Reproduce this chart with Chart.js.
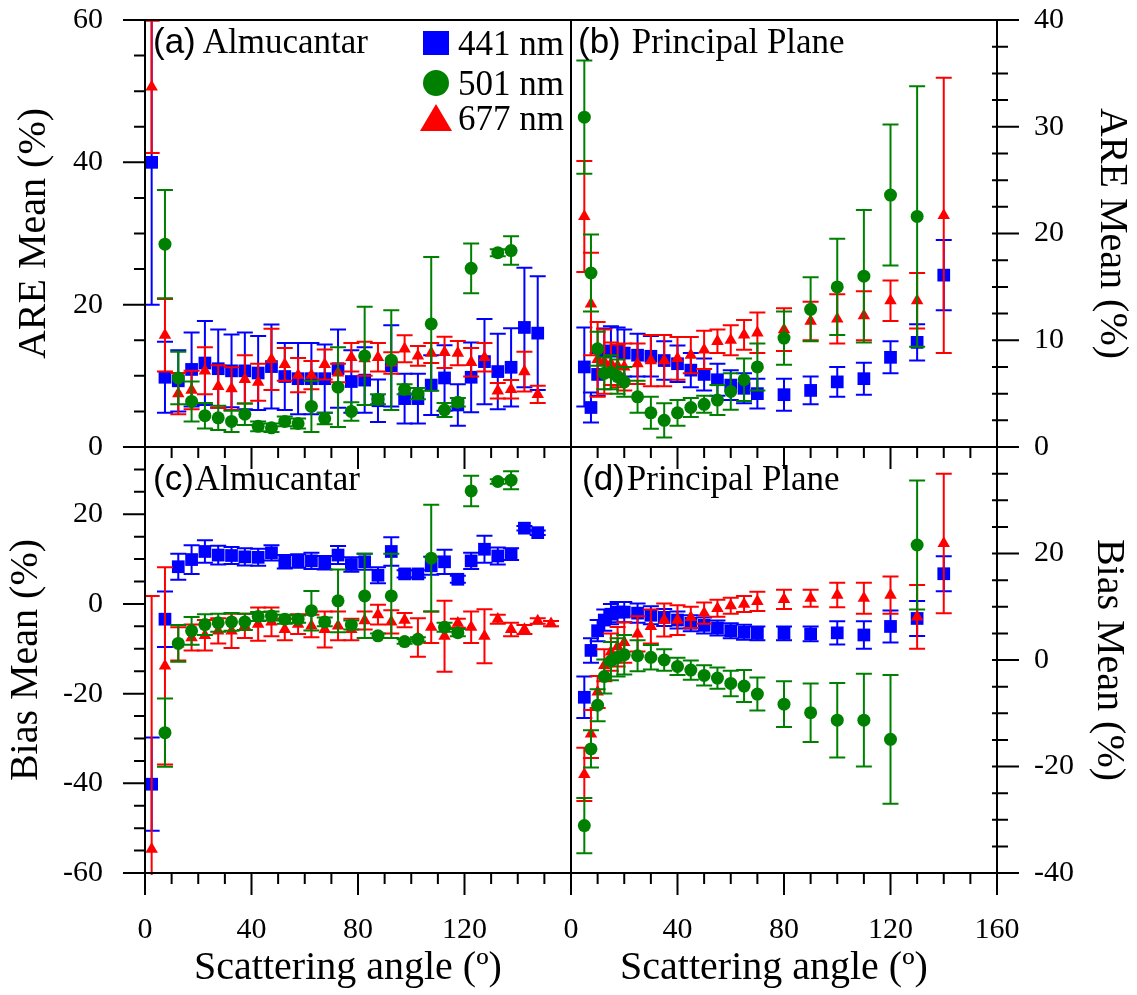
<!DOCTYPE html>
<html>
<head>
<meta charset="utf-8">
<script src="https://cdn.jsdelivr.net/npm/chart.js@4.4.0/dist/chart.umd.min.js"></script>
<style>
  html, body { margin: 0; padding: 0; background: #fff; }
  #wrap { position: relative; width: 1137px; height: 995px; }
  #wrap canvas { position: absolute; left: 0; top: 0; width: 1137px; height: 995px; }
</style>
</head>
<body>
<div id="wrap">
  <canvas id="pa" width="1137" height="995"></canvas>
  <canvas id="pb" width="1137" height="995"></canvas>
  <canvas id="pc" width="1137" height="995"></canvas>
  <canvas id="pd" width="1137" height="995"></canvas>
</div>
<script>
// scattering angles (deg)
const anglesAlm = [2.5, 7.5, 12.5, 17.5, 22.5, 27.5, 32.5, 37.5, 42.5, 47.5, 52.5, 57.5, 62.5, 67.5, 72.5,
  77.5, 82.5, 87.5, 92.5, 97.5, 102.5, 107.5, 112.5, 117.5, 122.5, 127.5, 132.5, 137.5, 142.5, 147.5, 152.5];
const anglesPP = [5, 7.5, 10, 12.5, 15, 17.5, 20, 25, 30, 35, 40, 45, 50, 55, 60, 65, 70, 80, 90, 100, 110, 120, 130, 140];

// (a) almucantar ARE
const almAre441 = [40.0, 9.8, 9.3, 10.9, 11.8, 11.0, 10.7, 10.7, 10.4, 11.3, 9.9, 9.6, 9.6, 9.6, 11.0, 9.2, 9.4, 6.5, 11.4, 6.8, 6.8, 8.7, 9.7, 5.9, 9.8, 12.0, 10.6, 11.2, 16.8, 16.0, null];
const almAre441Err = [20.0, 5.0, 4.3, 5.2, 5.9, 5.5, 5.1, 5.4, 5.2, 5.9, 4.7, 5.0, 5.0, 4.8, 5.5, 4.4, 4.6, 3.0, 5.7, 3.5, 3.5, 4.2, 4.6, 2.9, 4.9, 6.0, 5.3, 5.5, 8.4, 8.0, null];
const almAre501 = [null, 28.5, 9.7, 6.4, 4.4, 4.1, 3.6, 4.6, 2.9, 2.7, 3.6, 3.3, 5.7, 4.0, 8.4, 5.0, 12.8, 6.7, 12.2, 8.1, 7.5, 17.3, 5.2, 6.3, 25.1, null, 27.3, 27.6, null, null, null];
const almAre501Err = [null, 7.6, 3.7, 2.8, 1.8, 1.7, 1.5, 1.5, 0.7, 0.6, 0.7, 0.7, 3.6, 0.8, 5.6, 1.3, 6.9, 0.7, 7.0, 0.7, 0.8, 9.4, 1.0, 0.6, 3.5, null, 0.5, 2.0, null, null, null];
const almAre677 = [50.6, 15.7, 7.5, 8.0, 10.7, 8.5, 8.2, 9.5, 9.1, 12.3, 11.6, 10.1, 10.1, 11.6, 10.4, 12.6, 12.4, 12.6, 11.8, 13.8, 12.8, 13.2, 13.3, 13.2, 11.9, 12.6, 7.9, 8.1, 10.6, 7.4, null];
const almAre677Err = [9.3, 5.1, 2.9, 2.7, 3.3, 3.0, 3.0, 3.4, 2.6, 4.3, 2.3, 2.4, 2.0, 2.1, 1.3, 2.0, 2.4, 2.0, 1.5, 1.9, 1.4, 1.4, 2.2, 1.7, 2.0, 2.0, 1.1, 1.3, 2.8, 1.2, null];

// (b) principal plane ARE
const ppAre441 = [7.5, 3.7, 6.8, 8.9, 9.0, 9.0, 8.8, 8.6, 8.5, 8.1, 7.8, 7.2, 6.8, 6.3, 5.8, 5.5, 5.0, 4.9, 5.3, 6.1, 6.4, 8.4, 9.8, 16.1];
const ppAre441Err = [3.7, 1.4, 2.0, 2.2, 2.3, 2.2, 2.2, 2.0, 1.9, 1.8, 1.7, 1.6, 1.5, 1.5, 1.4, 1.4, 1.4, 1.5, 1.3, 1.4, 1.5, 1.5, 1.7, 3.3];
const ppAre501 = [30.9, 16.3, 9.2, 6.9, 7.0, 6.6, 6.1, 4.7, 3.2, 2.5, 3.2, 3.7, 4.0, 4.4, 5.2, 6.3, 7.5, 10.2, 12.9, 15.0, 16.0, 23.6, 21.6, null];
const ppAre501Err = [5.3, 3.6, 1.6, 1.5, 1.6, 1.6, 1.4, 1.5, 1.5, 1.6, 1.2, 0.9, 0.8, 1.4, 1.7, 2.0, 2.2, 2.5, 3.0, 4.5, 6.2, 6.6, 12.2, null];
const ppAre677 = [21.6, 13.4, 8.2, 8.0, 7.8, 7.6, 7.5, 7.8, 8.1, 8.1, 8.3, 8.6, 9.1, 9.9, 10.0, 10.5, 10.7, 11.0, 11.8, 12.0, 12.3, 13.7, 13.7, 21.7];
const ppAre677Err = [5.2, 4.8, 3.5, 3.0, 2.0, 2.0, 2.2, 1.9, 2.4, 2.4, 2.0, 1.7, 1.8, 1.1, 1.4, 1.4, 1.9, 2.0, 1.8, 2.3, 2.3, 1.9, 2.6, 12.9];

// (c) almucantar bias
const almBias441 = [-40.2, -3.4, 8.3, 9.9, 11.7, 10.9, 10.8, 10.5, 10.4, 11.4, 9.4, 9.6, 9.6, 9.2, 10.9, 8.8, 9.4, 6.4, 11.7, 6.7, 6.7, 8.5, 9.4, 5.5, 9.6, 12.2, 10.7, 11.1, 16.9, 15.9, null];
const almBias441Err = [10.4, 6.2, 2.9, 3.2, 2.5, 2.1, 1.9, 1.9, 1.9, 1.7, 1.5, 1.5, 1.8, 1.5, 2.0, 1.6, 1.8, 1.8, 3.2, 0.8, 0.8, 2.0, 2.7, 0.8, 1.8, 3.0, 1.9, 1.3, 0.5, 0.5, null];
const almBias501 = [null, -28.7, -8.8, -6.0, -4.6, -4.2, -4.0, -4.0, -2.8, -2.7, -3.4, -3.4, -1.5, -4.0, 0.7, -4.7, 1.8, -7.1, 1.8, -8.4, -7.9, 10.2, -5.2, -6.4, 25.2, null, 27.3, 27.6, null, null, null];
const almBias501Err = [null, 7.6, 4.1, 3.1, 2.3, 2.0, 2.0, 1.8, 1.0, 1.0, 1.0, 0.8, 4.4, 1.0, 7.0, 1.0, 9.4, 0.5, 9.4, 0.5, 0.5, 11.9, 1.0, 0.8, 3.4, null, 0.5, 2.0, null, null, null];
const almBias677 = [-54.7, -13.8, -8.9, -7.5, -7.0, -6.0, -6.0, -4.9, -4.5, -4.0, -5.7, -4.5, -4.9, -5.7, -4.9, -5.7, -3.7, -2.4, -4.0, -3.6, -7.5, -5.2, -7.2, -4.3, -5.2, -7.2, -3.4, -5.7, -5.7, -3.8, -4.4];
const almBias677Err = [56.5, 22.0, 3.7, 2.9, 3.4, 2.8, 3.8, 2.7, 3.7, 3.2, 2.4, 2.2, 2.5, 4.0, 3.2, 2.4, 2.0, 2.2, 2.6, 1.6, 4.3, 3.5, 7.9, 1.0, 3.5, 6.0, 1.0, 1.5, 1.0, 0.6, 0.6];

// (d) principal plane bias
const ppBias441 = [-7.0, 1.8, 5.5, 7.5, 8.6, 9.0, 9.0, 8.8, 8.4, 8.0, 7.5, 6.9, 6.5, 6.0, 5.5, 5.2, 5.0, 5.0, 4.9, 5.1, 4.7, 6.3, 7.8, 16.2];
const ppBias441Err = [3.9, 2.3, 2.0, 2.0, 1.9, 1.9, 1.9, 1.8, 1.7, 1.6, 1.6, 1.5, 1.5, 1.4, 1.4, 1.4, 1.3, 1.3, 1.4, 2.2, 2.6, 3.0, 3.3, 3.3];
const ppBias501 = [-31.1, -16.7, -8.5, -3.1, -0.2, 0.5, 1.0, 0.8, 0.5, 0.0, -1.2, -1.9, -2.9, -3.4, -4.4, -4.9, -6.4, -8.3, -9.9, -11.3, -11.3, -14.9, 21.6, null];
const ppBias501Err = [5.2, 3.5, 3.0, 3.2, 3.6, 3.6, 3.7, 2.9, 2.3, 2.0, 1.6, 1.8, 1.9, 2.0, 2.4, 3.0, 3.1, 4.3, 5.5, 7.0, 8.7, 12.1, 12.1, null];
const ppBias677 = [-21.5, -13.9, -6.0, -1.0, 1.5, 2.5, 3.3, 4.9, 6.3, 7.5, 7.5, 8.0, 8.8, 9.7, 10.2, 10.5, 11.0, 11.4, 11.6, 12.2, 11.6, 12.2, 8.1, 21.9];
const ppBias677Err = [5.0, 4.5, 3.0, 3.0, 3.5, 3.7, 3.8, 3.3, 3.2, 3.1, 2.8, 2.0, 2.0, 1.6, 1.5, 1.5, 1.8, 1.8, 1.6, 2.3, 2.9, 3.5, 6.0, 13.1];

const BLUE = '#0000ff', GREEN = '#008000', RED = '#ff0000';
const SERIF = "'Liberation Serif', 'Times New Roman', serif";
const SANS = "'Liberation Sans', Arial, sans-serif";

Chart.defaults.font.family = SERIF;
Chart.defaults.color = '#000';

// vertical error bars with caps, drawn just before each dataset's markers
const errorBars = {
  id: 'errorBars',
  beforeDatasetDraw(chart, args) {
    const ds = chart.data.datasets[args.index];
    if (!ds.err) return;
    const { ctx, chartArea: a } = chart;
    const xs = chart.scales.x, ys = chart.scales.y;
    ctx.save();
    ctx.beginPath();
    ctx.rect(a.left - 1, a.top - 2, a.right - a.left + 2, a.bottom - a.top + 4);
    ctx.clip();
    ctx.strokeStyle = ds.backgroundColor;
    ctx.lineWidth = 2;
    ds.data.forEach((p, i) => {
      const e = ds.err[i];
      const px = xs.getPixelForValue(p.x);
      const hi = ys.getPixelForValue(p.y + e);
      const lo = ys.getPixelForValue(p.y - e);
      ctx.beginPath();
      ctx.moveTo(px, hi); ctx.lineTo(px, lo);
      ctx.moveTo(px - 8, hi); ctx.lineTo(px + 8, hi);
      ctx.moveTo(px - 8, lo); ctx.lineTo(px + 8, lo);
      ctx.stroke();
    });
    ctx.restore();
  }
};

// box around the panel + outward tick marks
const frame = {
  id: 'frame',
  afterDraw(chart, args, o) {
    const { ctx, chartArea: a } = chart;
    const xs = chart.scales.x, ys = chart.scales.y;
    ctx.save();
    ctx.strokeStyle = '#000';
    ctx.lineWidth = 2;
    ctx.strokeRect(a.left, a.top, a.right - a.left, a.bottom - a.top);
    ctx.beginPath();
    for (let v = xs.min; v <= xs.max + 1e-6; v += o.xMinor) {
      const px = xs.getPixelForValue(v);
      const len = Math.abs(v % o.xMajor) < 1e-6 ? 22 : 11;
      ctx.moveTo(px, a.bottom); ctx.lineTo(px, a.bottom + len);
    }
    for (let v = ys.min; v <= ys.max + 1e-6; v += o.yMinor) {
      const py = ys.getPixelForValue(v);
      const len = Math.abs(v % o.yMajor) < 1e-6 ? 22 : 11;
      if (o.side === 'left') { ctx.moveTo(a.left, py); ctx.lineTo(a.left - len, py); }
      else { ctx.moveTo(a.right - 5, py); ctx.lineTo(a.right + len, py); }
    }
    ctx.stroke();
    ctx.restore();
  }
};

// "(a) Almucantar" style labels and the wavelength legend
const panelText = {
  id: 'panelText',
  afterDraw(chart, args, o) {
    const { ctx, chartArea: a } = chart;
    ctx.save();
    ctx.fillStyle = '#000';
    ctx.textBaseline = 'alphabetic';
    ctx.textAlign = 'left';
    ctx.font = '35px ' + SANS;
    const x0 = a.left + o.dx;
    ctx.fillText(o.tag, x0, a.top + o.base);
    const w = ctx.measureText(o.tag).width;
    ctx.font = '35px ' + SERIF;
    ctx.fillText(o.name, x0 + w + o.gap, a.top + o.base);
    if (o.legend) {
      const rows = [[43, 55], [83, 95], [118, 130]];
      chart.data.datasets.forEach((ds, i) => {
        const cx = 436, cy = rows[i][0];
        ctx.fillStyle = ds.backgroundColor;
        ctx.beginPath();
        if (ds.pointStyle === 'rect') ctx.rect(cx - 13, cy - 12, 26, 24);
        else if (ds.pointStyle === 'circle') ctx.arc(cx, cy, 13, 0, Math.PI * 2);
        else { ctx.moveTo(cx, cy - 14); ctx.lineTo(cx + 16, cy + 13); ctx.lineTo(cx - 16, cy + 13); ctx.closePath(); }
        ctx.fill();
        ctx.fillStyle = '#000';
        ctx.fillText(ds.label, 458, rows[i][1]);
      });
    }
    ctx.restore();
  }
};

function series(label, xs, ys, es, style) {
  const data = [], err = [];
  xs.forEach((x, i) => {
    if (ys[i] === null) return;
    data.push({ x: x, y: ys[i] });
    err.push(es[i]);
  });
  const looks = {
    rect: { color: BLUE, r: 9, order: 3 },
    circle: { color: GREEN, r: 6.5, order: 1 },
    triangle: { color: RED, r: 7.2, order: 2 }
  }[style];
  return {
    label: label, data: data, err: err, order: looks.order,
    pointStyle: style, pointRadius: looks.r, pointHoverRadius: looks.r,
    backgroundColor: looks.color, borderColor: looks.color, borderWidth: 0,
    showLine: false
  };
}

function panel(id, p) {
  const tickFont = { size: 30, family: SERIF };
  const titleFont = { size: 40, family: SERIF };
  return new Chart(document.getElementById(id), {
    type: 'scatter',
    data: { datasets: p.datasets },
    options: {
      responsive: false,
      animation: false,
      events: [],
      layout: { padding: p.padding },
      plugins: {
        legend: { display: false },
        tooltip: { enabled: false },
        frame: { side: p.side, xMinor: 10, xMajor: 40, yMinor: p.yMinor, yMajor: p.yMajor },
        panelText: p.text
      },
      scales: {
        x: {
          type: 'linear', min: 0, max: 160,
          display: p.xAxis,
          afterFit: s => { s.height = p.xAxis ? 122 : 0; s.paddingLeft = 0; s.paddingRight = 0; },
          grid: { display: false, drawTicks: false },
          border: { display: false },
          ticks: {
            stepSize: 40, autoSkip: false, maxRotation: 0, padding: 39, font: tickFont, color: '#000',
            callback: v => (p.hide160 && v === 160) ? '' : v
          },
          title: { display: true, text: 'Scattering angle (º)\u2002', font: titleFont, color: '#000', padding: { top: 0, bottom: 3 } }
        },
        y: {
          type: 'linear', position: p.side, min: p.yMin, max: p.yMax,
          afterFit: s => { s.width = p.side === 'left' ? 145 : 140; s.paddingTop = 0; s.paddingBottom = 0; },
          grid: { display: false, drawTicks: false },
          border: { display: false },
          ticks: {
            stepSize: p.yMajor, autoSkip: false, padding: p.side === 'left' ? 42 : 37, font: tickFont, color: '#000',
            callback: v => (Math.abs(v % p.yMajor) < 1e-6 && !(p.hideMax && v === p.yMax) ? v : '')
          },
          title: { display: true, text: p.yTitle, font: titleFont, color: '#000', padding: { top: p.titlePad, bottom: 0 } }
        }
      }
    },
    plugins: [errorBars, frame, panelText]
  });
}

panel('pa', {
  padding: { left: 0, top: 20, right: 566, bottom: 548 },
  side: 'left', yMin: 0, yMax: 60, yMajor: 20, yMinor: 5, yTitle: 'ARE Mean (%)', titlePad: 10,
  xAxis: false,
  text: { tag: '(a)', name: 'Almucantar', dx: 8, gap: 7, base: 33, legend: true },
  datasets: [
    series('441 nm', anglesAlm, almAre441, almAre441Err, 'rect'),
    series('501 nm', anglesAlm, almAre501, almAre501Err, 'circle'),
    series('677 nm', anglesAlm, almAre677, almAre677Err, 'triangle')
  ]
});

panel('pb', {
  padding: { left: 571, top: 20, right: 0, bottom: 548 },
  side: 'right', yMin: 0, yMax: 40, yMajor: 10, yMinor: 2.5, yTitle: 'ARE Mean (%)', titlePad: 2,
  xAxis: false,
  text: { tag: '(b)', name: 'Principal Plane', dx: 7, gap: 11, base: 33 },
  datasets: [
    series('441 nm', anglesPP, ppAre441, ppAre441Err, 'rect'),
    series('501 nm', anglesPP, ppAre501, ppAre501Err, 'circle'),
    series('677 nm', anglesPP, ppAre677, ppAre677Err, 'triangle')
  ]
});

panel('pc', {
  padding: { left: 0, top: 447, right: 566, bottom: 0 },
  side: 'left', yMin: -60, yMax: 35, yMajor: 20, yMinor: 5, yTitle: 'Bias Mean (%)', titlePad: 2,
  xAxis: true, hide160: true,
  text: { tag: '(c)', name: 'Almucantar', dx: 8, gap: 1, base: 43 },
  datasets: [
    series('441 nm', anglesAlm, almBias441, almBias441Err, 'rect'),
    series('501 nm', anglesAlm, almBias501, almBias501Err, 'circle'),
    series('677 nm', anglesAlm, almBias677, almBias677Err, 'triangle')
  ]
});

panel('pd', {
  padding: { left: 571, top: 447, right: 0, bottom: 0 },
  side: 'right', yMin: -40, yMax: 40, yMajor: 20, yMinor: 5, yTitle: 'Bias Mean (%)', titlePad: 5,
  xAxis: true, hideMax: true,
  text: { tag: '(d)', name: 'Principal Plane', dx: 11, gap: 2, base: 43 },
  datasets: [
    series('441 nm', anglesPP, ppBias441, ppBias441Err, 'rect'),
    series('501 nm', anglesPP, ppBias501, ppBias501Err, 'circle'),
    series('677 nm', anglesPP, ppBias677, ppBias677Err, 'triangle')
  ]
});
</script>
</body>
</html>
